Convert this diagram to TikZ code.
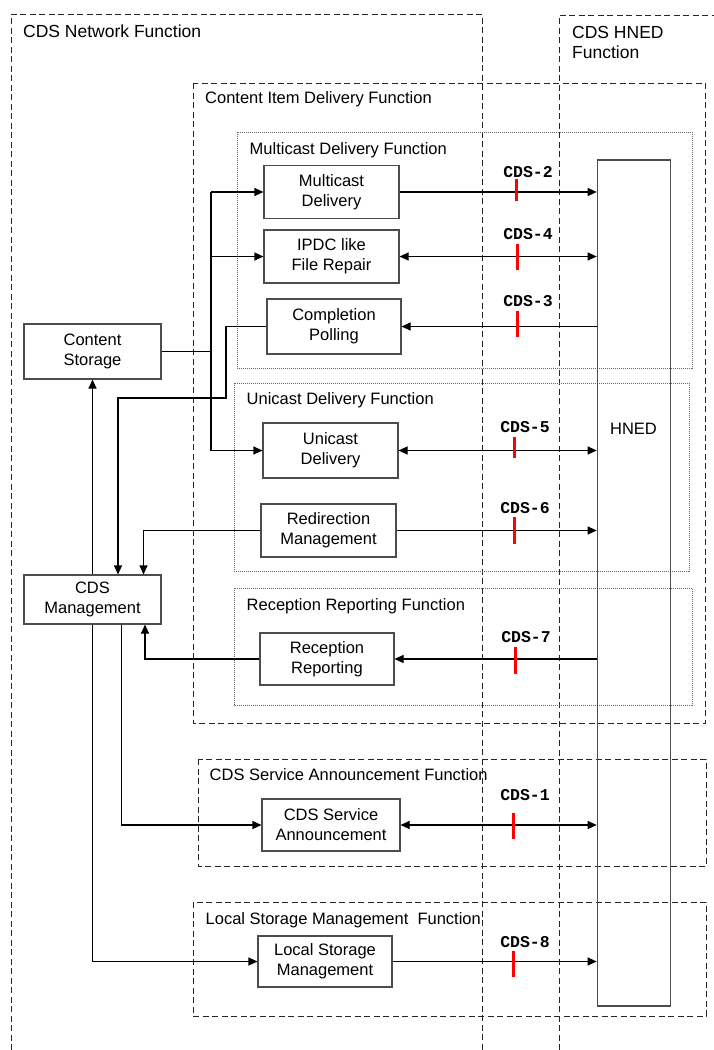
\documentclass[tikz,border=0pt]{standalone}
\usepackage{fontspec}
\setmainfont{Liberation Sans}
\setmonofont{Liberation Mono}
\usetikzlibrary{arrows.meta}

\begin{document}
\begin{tikzpicture}[x=1pt,y=-1pt,
    >={Triangle[length=9pt,width=8pt]},
    every node/.style={font=\fontsize{16.5}{20}\selectfont},
    fbox/.style={draw=black!70,line width=1.1pt,align=center,inner sep=0pt,minimum width=135pt,minimum height=53pt},
    area/.style={draw=black!85,line width=0.9pt,dash pattern=on 6pt off 3.5pt},
    subarea/.style={draw=black!60,line width=0.7pt,dash pattern=on 1pt off 1pt},
    areatitle/.style={anchor=base west,inner sep=0pt},
    bigtitle/.style={font=\fontsize{17.5}{20}\selectfont},
    link/.style={line width=1.1pt},
    refpt/.style={draw=red,line width=3pt},
    reflabel/.style={anchor=base,inner sep=0pt,font=\fontsize{16.5}{18}\selectfont\ttfamily\bfseries}]

    \useasboundingbox (0,0) rectangle (714,1050);

    % functional areas
    \draw[area] (11,1050) -- (11,14) -- (482,14) -- (482,1050);
    \draw[area] (559,1050) -- (559,15) -- (714,15);
    \draw[area] (193,83) rectangle (705,723);
    \draw[area] (198,759) rectangle (706,866);
    \draw[area] (193,902) rectangle (706,1016);
    \draw[subarea] (237,132) rectangle (692,368);
    \draw[subarea] (234,383) rectangle (689,571);
    \draw[subarea] (234,588) rectangle (692,705);

    \node[areatitle,bigtitle] (netlbl) at (23,37.5) {CDS Network Function};
    \node[anchor=west,align=left,inner sep=0pt,bigtitle] (hnedfnlbl) at (572,42) {CDS HNED\\Function};
    \node[areatitle] (cidlbl) at (205,103) {Content Item Delivery Function};
    \node[areatitle] (mdflbl) at (249.5,154) {Multicast Delivery Function};
    \node[areatitle] (udflbl) at (246.5,404) {Unicast Delivery Function};
    \node[areatitle] (rrflbl) at (246.5,610) {Reception Reporting Function};
    \node[areatitle] (csaflbl) at (209.5,780) {CDS Service Announcement Function};
    \node[areatitle] (lsmflbl) at (205.5,924) {Local Storage Management\ \ Function};

    % functions
    \node[fbox] (md) at (331.5,192) {Multicast\\Delivery};
    \node[fbox] (ipdc) at (331.5,256.5) {IPDC like\\File Repair};
    \node[fbox,minimum width=134pt,minimum height=55pt] (cp) at (334,326.5) {Completion\\Polling};
    \node[fbox,minimum width=137pt,minimum height=55pt] (cs) at (92.5,351.5) {Content\\Storage};
    \node[fbox,minimum width=137pt,minimum height=49pt] (cm) at (92.5,599.5) {CDS\\Management};
    \node[fbox,minimum height=55pt] (ud) at (330.5,450.5) {Unicast\\Delivery};
    \node[fbox] (rm) at (328.5,530.5) {Redirection\\Management};
    \node[fbox,minimum width=134pt,minimum height=52pt] (rr) at (327,659) {Reception\\Reporting};
    \node[fbox,minimum width=138pt,minimum height=52pt] (csa) at (331,825) {CDS Service\\Announcement};
    \node[fbox,minimum width=134pt,minimum height=51pt] (lsm) at (325,961.5) {Local Storage\\Management};
    \node[fbox,minimum width=73.5pt,minimum height=846pt] (hned) at (634,583) {};
    \node (hnedlbl) at (633.5,428.5) {HNED};

    % distribution from content storage
    \coordinate (bustop) at (211,192);
    \coordinate (busbot) at (211,450.5);
    \draw[link] (bustop) -- (busbot);
    \draw[link] (cs.east) -- (cs.east -| bustop);
    \draw[link,->] (bustop) -- (md.west);
    \draw[link,->] (ipdc.west -| bustop) -- (ipdc.west);
    \draw[link,->] (busbot) -- (ud.west);

    % management links
    \coordinate (cpbend) at (226,398);
    \draw[link,->] (cp.west) -| (cpbend) -| ([xshift=25.5pt]cm.north);
    \draw[link,->] (rm.west) -| ([xshift=51pt]cm.north);
    \draw[link,->] (rr.west) -| ([xshift=52.5pt]cm.south);
    \draw[link,->] (cm.north) -- (cs.south);
    \draw[link,->] ([xshift=29pt]cm.south) |- (csa.west);
    \draw[link,->] (cm.south) |- (lsm.west);

    % reference points towards the HNED
    \draw[link,->] (md.east) -- (md.east -| hned.west);
    \draw[link,<->] (ipdc.east) -- (ipdc.east -| hned.west);
    \draw[link,->] (cp.east -| hned.west) -- (cp.east);
    \draw[link,<->] (ud.east) -- (ud.east -| hned.west);
    \draw[link,->] (rm.east) -- (rm.east -| hned.west);
    \draw[link,->] (rr.east -| hned.west) -- (rr.east);
    \draw[link,<->] (csa.east) -- (csa.east -| hned.west);
    \draw[link,->] (lsm.east) -- (lsm.east -| hned.west);

    \foreach \n/\tx/\ya/\yb/\lx/\ly in {2/516/179/201/528/177, 4/517/244/270/528/239,
        3/517/311/337/528/306, 5/514/437/458/525/432, 6/514/517/544/525/513,
        7/515/647/674/526/642, 1/513/813/839/525/800, 8/513/951/977/525/947}
      {
        \draw[refpt] (\tx,\ya) -- (\tx,\yb);
        \node[reflabel] (cds\n) at (\lx,\ly) {CDS-\n};
      }

\end{tikzpicture}
\end{document}
